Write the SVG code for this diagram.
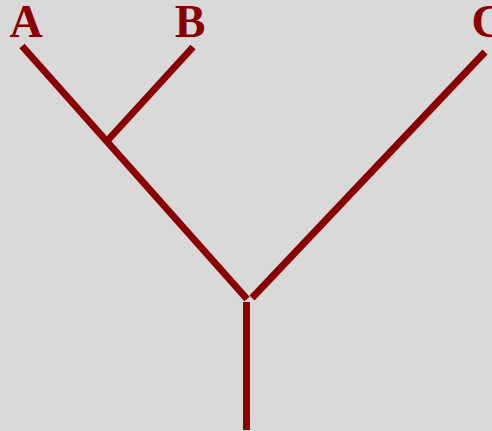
<svg xmlns="http://www.w3.org/2000/svg" width="492" height="431" viewBox="0 0 492 431">
<style>
.br{stroke:#8b0000;stroke-width:7;fill:none;stroke-linecap:butt}
.lb{font-family:"Liberation Serif",serif;font-weight:bold;font-size:46px;fill:#8b0000;text-anchor:middle}
</style>
<rect width="492" height="431" fill="#d9d9d9"/>
<g id="connectors">
<line class="br" x1="22" y1="46" x2="247" y2="299"/>
<line class="br" x1="193" y1="47" x2="108" y2="140"/>
<line class="br" x1="485" y1="52" x2="252" y2="298"/>
<line class="br" x1="246.5" y1="302" x2="246.5" y2="430"/>
</g>
<g id="A"><text class="lb" x="26" y="37">A</text></g>
<g id="B"><text class="lb" x="190" y="37">B</text></g>
<g id="C"><text class="lb" x="488" y="37">C</text></g>
</svg>
